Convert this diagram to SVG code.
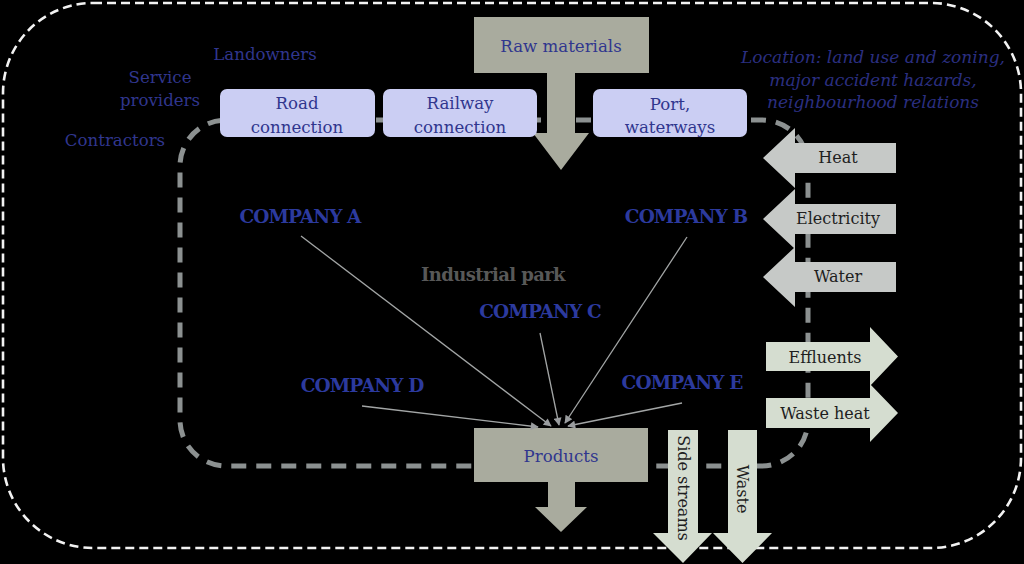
<svg xmlns="http://www.w3.org/2000/svg" width="1024" height="564" viewBox="0 0 1024 564">
<style>
.t{font-family:"DejaVu Serif","Liberation Serif",serif;font-size:16.6px;fill:#30368e;text-anchor:middle}
.it{font-family:"DejaVu Serif","Liberation Serif",serif;font-size:17px;font-style:italic;fill:#2b2f80;text-anchor:middle}
.co{font-family:"DejaVu Serif","Liberation Serif",serif;font-size:18.5px;font-weight:bold;fill:#2c3a9e;text-anchor:middle;letter-spacing:-0.9px}
.dk{font-family:"DejaVu Serif","Liberation Serif",serif;font-size:16px;fill:#1e1e1e;text-anchor:middle}
.box{fill:#cbcef3}
.beige{fill:#a9ab9e}
.gray{fill:#c6c9c7}
.green{fill:#d5ddd0}
.conn{stroke:#a3a6a6;stroke-width:1.3;fill:none;marker-end:url(#ah)}
</style>
<defs>
<marker id="ah" viewBox="0 0 10 10" refX="9" refY="5" markerWidth="10" markerHeight="8" markerUnits="userSpaceOnUse" orient="auto">
<path d="M0,0 L10,5 L0,10 Z" fill="#9a9d9f"/>
</marker>
</defs>
<rect x="0" y="0" width="1024" height="564" fill="#000"/>
<g id="outer-boundary">
<rect x="3" y="3" width="1018" height="545" rx="90" fill="none" stroke="#f2f2f2" stroke-width="2.6" stroke-dasharray="9 5"/>
</g>
<g id="industrial-park">
<rect x="180" y="120" width="628" height="346" rx="46" fill="none" stroke="#8c9191" stroke-width="5" stroke-dasharray="15 10"/>
<text x="493" y="281" style="font-family:'DejaVu Serif','Liberation Serif',serif;font-size:18px;font-weight:bold;fill:#585858;text-anchor:middle;letter-spacing:-0.6px">Industrial park</text>
</g>
<g id="stakeholders">
<text class="t" x="265" y="60">Landowners</text>
<text class="t" x="160" y="83">Service</text>
<text class="t" x="160" y="106">providers</text>
<text class="t" x="115" y="146">Contractors</text>
</g>
<g id="location">
<text class="it" x="873" y="63">Location: land use and zoning,</text>
<text class="it" x="873" y="86">major accident hazards,</text>
<text class="it" x="873" y="108">neighbourhood relations</text>
</g>
<g id="raw-materials">
<path class="beige" d="M474,17 H649 V73 H575 V133 H589 L561,170 L533,133 H547 V73 H474 Z"/>
<text class="t" x="561" y="52">Raw materials</text>
</g>
<g id="road-connection">
<rect class="box" x="220" y="89" width="155" height="48" rx="7"/>
<text class="t" x="297" y="109">Road</text>
<text class="t" x="297" y="133">connection</text>
</g>
<g id="railway-connection">
<rect class="box" x="383" y="89" width="154" height="48" rx="7"/>
<text class="t" x="460" y="109">Railway</text>
<text class="t" x="460" y="133">connection</text>
</g>
<g id="port-waterways">
<rect class="box" x="593" y="89" width="154" height="48" rx="7"/>
<text class="t" x="670" y="110">Port,</text>
<text class="t" x="670" y="133">waterways</text>
</g>
<g id="heat">
<path class="gray" d="M896,143 V173 H795 V188 L763,158 L795,128 V143 Z"/>
<text class="dk" x="838" y="163">Heat</text>
</g>
<g id="electricity">
<path class="gray" d="M896,204 V234 H795 V249 L763,219 L795,189 V204 Z"/>
<text class="dk" x="838" y="224">Electricity</text>
</g>
<g id="water">
<path class="gray" d="M896,262 V292 H795 V307 L763,277 L795,247 V262 Z"/>
<text class="dk" x="838" y="282">Water</text>
</g>
<g id="effluents">
<path class="green" d="M766,342 H870 V327 L898,356.5 L870,386 V371 H766 Z"/>
<text class="dk" x="825" y="363">Effluents</text>
</g>
<g id="waste-heat">
<path class="green" d="M766,398 H870 V384 L898,413 L870,442 V428 H766 Z"/>
<text class="dk" x="825" y="419">Waste heat</text>
</g>
<g id="side-streams">
<path class="green" d="M668,430 H698 V533 H712 L683,563 L653,533 H668 Z"/>
<text class="dk" transform="translate(683,488) rotate(90)" x="0" y="5.5">Side streams</text>
</g>
<g id="waste">
<path class="green" d="M728,430 H757 V533 H772 L742.5,563 L713,533 H728 Z"/>
<text class="dk" transform="translate(742.5,489) rotate(90)" x="0" y="5.5">Waste</text>
</g>
<g id="products">
<path class="beige" d="M474,428 H648 V482 H575 V507 H587 L561,532 L535,507 H548 V482 H474 Z"/>
<text class="t" x="561" y="462">Products</text>
</g>
<g id="company-a"><text class="co" x="300" y="223">COMPANY A</text></g>
<g id="company-b"><text class="co" x="686" y="223">COMPANY B</text></g>
<g id="company-c"><text class="co" x="540" y="318">COMPANY C</text></g>
<g id="company-d"><text class="co" x="362" y="392">COMPANY D</text></g>
<g id="company-e"><text class="co" x="682" y="389">COMPANY E</text></g>
<g id="connectors">
<line class="conn" x1="301" y1="236" x2="551" y2="426"/>
<line class="conn" x1="687" y1="237" x2="565" y2="423"/>
<line class="conn" x1="540" y1="333" x2="559" y2="425"/>
<line class="conn" x1="362" y1="406" x2="538" y2="427"/>
<line class="conn" x1="682" y1="403" x2="568" y2="426"/>
</g>
</svg>
